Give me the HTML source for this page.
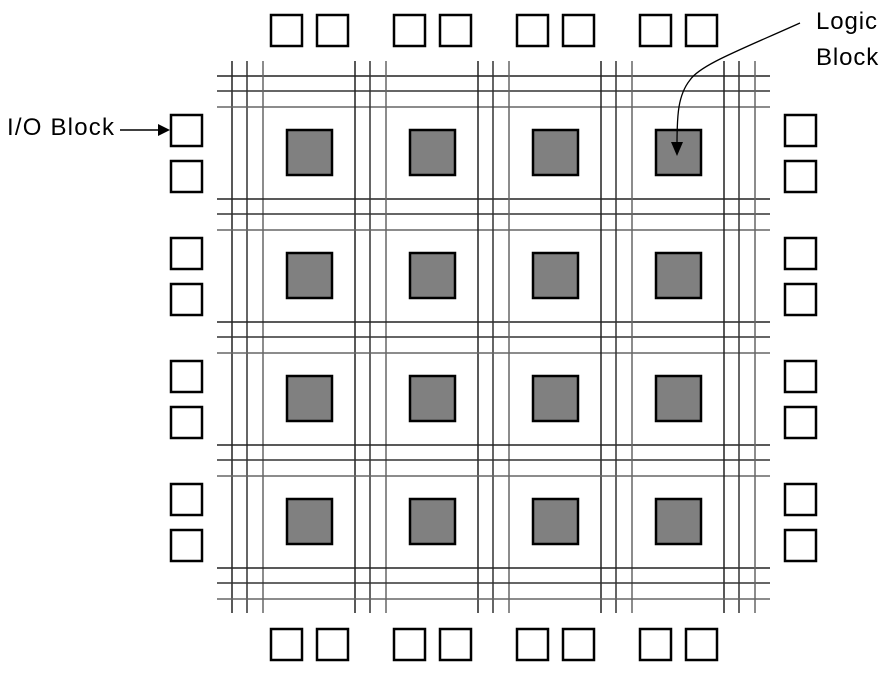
<!DOCTYPE html>
<html><head><meta charset="utf-8"><style>
html,body{margin:0;padding:0;background:#fff;}
</style></head><body>
<svg width="894" height="677" xmlns="http://www.w3.org/2000/svg" style="display:block">
<g id="grid" stroke-width="1.5">
</g>
<script>
(function(){
var g=document.getElementById('grid'),ns='http://www.w3.org/2000/svg';
function el(t,a){var e=document.createElementNS(ns,t);for(var k in a)e.setAttribute(k,a[k]);g.appendChild(e);return e;}
var offs=[0,15,31],cols=['#222','#333','#666'];
for(var i=0;i<5;i++)for(var j=0;j<3;j++){
 var x=232+i*123+offs[j];el('line',{x1:x,y1:61,x2:x,y2:613,stroke:cols[j]});
 var y=76+i*123+offs[j];el('line',{x1:217,y1:y,x2:770,y2:y,stroke:cols[j]});
}
for(var r=0;r<4;r++)for(var c=0;c<4;c++){
 el('rect',{x:287+c*123,y:130+r*123,width:45,height:45,fill:'#808080',stroke:'#000','stroke-width':2.5});
}
for(var c=0;c<4;c++){
 [271,317].forEach(function(x){
  el('rect',{x:x+c*123,y:15,width:31,height:31,fill:'#fff',stroke:'#000','stroke-width':2.5});
  el('rect',{x:x+c*123,y:629,width:31,height:31,fill:'#fff',stroke:'#000','stroke-width':2.5});
 });
}
for(var r=0;r<4;r++){
 [115,161].forEach(function(y){
  el('rect',{x:171,y:y+r*123,width:31,height:31,fill:'#fff',stroke:'#000','stroke-width':2.5});
  el('rect',{x:785,y:y+r*123,width:31,height:31,fill:'#fff',stroke:'#000','stroke-width':2.5});
 });
}
})();
</script>
<text x="7" y="135" font-family="Liberation Sans, sans-serif" font-size="24" letter-spacing="1.2">I/O Block</text>
<line x1="120" y1="130" x2="160" y2="130" stroke="#000" stroke-width="1.5"/>
<polygon points="158,124 170,130 158,136" fill="#000"/>
<text x="816" y="29" font-family="Liberation Sans, sans-serif" font-size="24" letter-spacing="0.9">Logic</text>
<text x="816" y="65" font-family="Liberation Sans, sans-serif" font-size="24" letter-spacing="0.9">Block</text>
<path d="M800,23 C740,50 700,65 690,80 C678,95 677,115 677,145" fill="none" stroke="#000" stroke-width="1.3"/>
<polygon points="671,142 683,142 677,156" fill="#000"/>
</svg>
</body></html>
